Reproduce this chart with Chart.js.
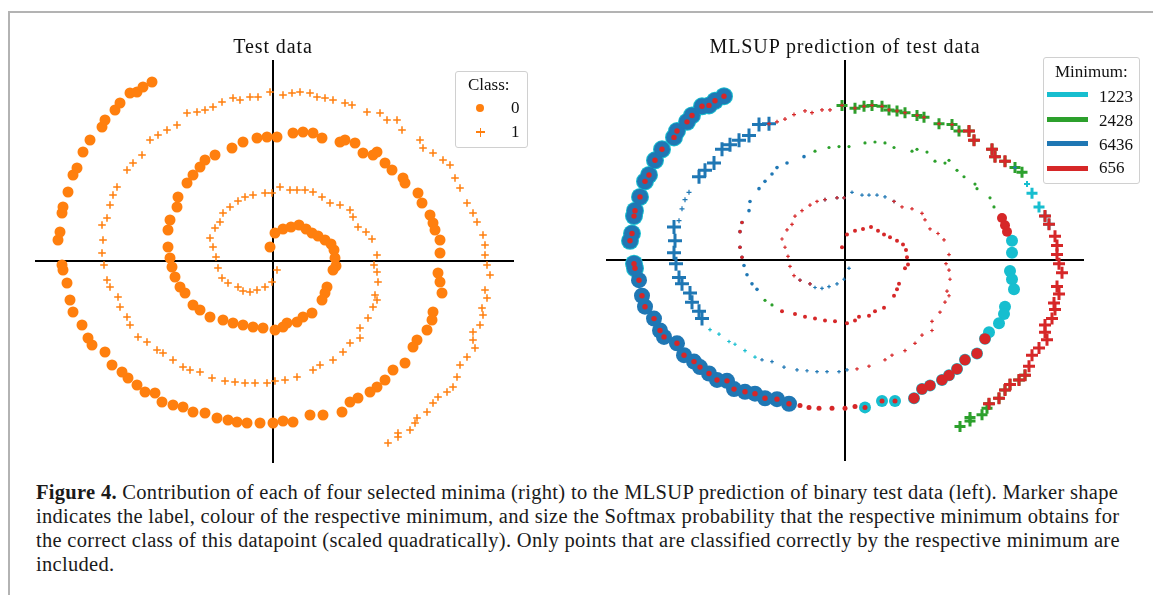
<!DOCTYPE html>
<html>
<head>
<meta charset="utf-8">
<script src="https://cdn.jsdelivr.net/npm/chart.js@4.4.1/dist/chart.umd.min.js"></script>
<style>
  body { margin: 0; background: #fff; }
  #fig { position: relative; width: 1153px; height: 595px; overflow: hidden; font-family: "Liberation Serif", "Times New Roman", serif; color: #111; }
  #fig canvas { position: absolute; top: 0; }
  .frame { position: absolute; left: 8px; top: 11px; right: -4px; bottom: -4px; border-top: 2px solid #b3b3b3; border-left: 2px solid #b3b3b3; }
  .title { position: absolute; width: 400px; text-align: center; font-size: 20px; line-height: 20px; letter-spacing: 0.9px; white-space: nowrap; }
  .box { position: absolute; border: 1px solid #d0d0d0; border-radius: 3px; background: rgba(255,255,255,0.85); }
  .lt { position: absolute; font-size: 17px; line-height: 17px; white-space: nowrap; }
  .swatch { position: absolute; height: 5px; width: 41px; }
  .cap { position: absolute; left: 36px; font-size: 20.5px; line-height: 24px; letter-spacing: 0.3px; white-space: nowrap; color: #1a1a1a; }
</style>
</head>
<body>
<div id="fig">
  <div class="frame"></div>
  <canvas id="left" width="576" height="470" style="left:0;width:576px;height:470px"></canvas>
  <canvas id="right" width="577" height="470" style="left:576px;width:577px;height:470px"></canvas>

  <div class="title" style="left:73px;top:36px">Test data</div>
  <div class="title" style="left:645px;top:36px">MLSUP prediction of test data</div>

  <!-- class legend -->
  <div class="box" style="left:455px;top:71px;width:71px;height:75px"></div>
  <div class="lt" style="left:468px;top:76px">Class:</div>
  <div style="position:absolute;left:476px;top:104px;width:8px;height:8px;border-radius:50%;background:#ff7f0e"></div>
  <div style="position:absolute;left:476px;top:131px;width:9px;height:1.6px;background:#ff7f0e"></div>
  <div style="position:absolute;left:479.7px;top:127.5px;width:1.6px;height:9px;background:#ff7f0e"></div>
  <div class="lt" style="left:511px;top:99px">0</div>
  <div class="lt" style="left:511px;top:123px">1</div>

  <!-- minimum legend -->
  <div class="box" style="left:1043px;top:57px;width:95px;height:125px"></div>
  <div class="lt" style="left:1055px;top:63px">Minimum:</div>
  <div class="swatch" style="left:1047px;top:91.5px;background:#17becf"></div>
  <div class="swatch" style="left:1047px;top:116.5px;background:#2ca02c"></div>
  <div class="swatch" style="left:1047px;top:140.5px;background:#1f77b4"></div>
  <div class="swatch" style="left:1047px;top:165.5px;background:#d62728"></div>
  <div class="lt" style="left:1099px;top:88px">1223</div>
  <div class="lt" style="left:1099px;top:112px">2428</div>
  <div class="lt" style="left:1099px;top:136px">6436</div>
  <div class="lt" style="left:1099px;top:159px">656</div>

  <div class="cap" style="top:479.5px"><b>Figure 4.</b> Contribution of each of four selected minima (right) to the MLSUP prediction of binary test data (left). Marker shape</div>
  <div class="cap" style="top:503.8px">indicates the label, colour of the respective minimum, and size the Softmax probability that the respective minimum obtains for</div>
  <div class="cap" style="top:528.1px">the correct class of this datapoint (scaled quadratically). Only points that are classified correctly by the respective minimum are</div>
  <div class="cap" style="top:552.4px">included.</div>
</div>

<script>
// test points, ordered along each spiral from the centre outwards
const class0 = [
  [-0.3,1.4],[0.2,2.8],[1.0,3.2],[1.8,3.4],[2.6,3.6],[3.3,3.2],[3.9,2.8],[4.5,2.5],[5.2,2.1],[5.8,1.7],
  [6.1,1.1],[6.2,0.3],[6.3,-0.5],[6.0,-0.9],[5.4,-2.6],[5.2,-3.2],[4.9,-3.9],[3.9,-5.2],[3.0,-5.6],[2.4,-6.1],
  [1.4,-6.2],[1.0,-6.6],[0.2,-6.9],[-1.0,-6.7],[-2.0,-6.6],[-3.0,-6.4],[-4.0,-6.2],[-5.0,-5.9],[-6.3,-5.6],[-7.3,-4.9],
  [-8.0,-4.4],[-8.8,-3.2],[-9.3,-2.6],[-9.8,-1.6],[-10.1,-0.6],[-10.3,0.3],[-10.5,1.4],[-10.5,3.1],[-10.3,4.1],[-9.6,5.4],
  [-9.5,6.4],[-8.6,7.8],[-8.0,8.6],[-7.3,9.4],[-6.8,10.1],[-5.8,10.6],[-4.1,11.3],[-3.0,11.9],[-1.6,12.3],[-0.6,12.4],
  [0.4,12.4],[2.0,12.8],[3.0,12.9],[4.0,12.8],[4.9,12.3],[6.7,11.9],[7.2,12.1],[8.2,11.8],[9.0,10.8],[10.0,10.6],
  [10.4,10.9],[11.2,9.8],[11.9,9.1],[13.0,8.3],[13.2,7.8],[14.5,6.8],[14.9,5.8],[15.7,4.6],[16.0,3.8],[16.2,3.1],
  [16.7,2.1],[16.7,0.8],[16.5,-1.2],[16.7,-2.1],[16.9,-3.2],[16.0,-5.1],[15.9,-5.9],[15.4,-6.9],[14.4,-7.9],[14.0,-8.6],
  [13.2,-10.2],[12.0,-10.9],[11.2,-11.9],[10.4,-12.6],[9.7,-13.1],[8.5,-13.7],[7.7,-14.1],[6.9,-15.1],[5.0,-15.4],[3.7,-15.4],
  [2.0,-16.1],[1.0,-16.0],[0.0,-16.2],[-1.3,-16.2],[-2.6,-16.2],[-3.6,-16.1],[-4.5,-15.9],[-5.6,-15.7],[-6.8,-15.2],[-8.0,-15.1],
  [-9.0,-14.6],[-10.0,-14.4],[-11.1,-14.1],[-11.8,-13.2],[-12.8,-13.1],[-13.6,-12.4],[-14.5,-11.7],[-15.1,-11.1],[-16.1,-10.4],[-16.8,-9.1],
  [-18.1,-8.4],[-18.5,-7.7],[-19.1,-6.4],[-20.0,-5.1],[-20.3,-3.9],[-20.6,-2.2],[-21.0,-0.9],[-21.1,-0.4],[-21.5,2.1],[-21.3,2.9],
  [-21.1,4.8],[-21.0,5.4],[-20.5,6.9],[-20.0,8.6],[-19.6,9.3],[-19.0,10.9],[-18.3,12.1],[-17.1,13.4],[-16.8,14.1],[-15.8,15.1],
  [-15.3,15.8],[-14.3,16.8],[-13.6,16.9],[-13.0,17.4],[-12.1,17.9]
];
const class1 = [
  [0.4,-0.9],[-0.1,-2.1],[-0.8,-2.6],[-1.6,-2.9],[-2.3,-3.1],[-3.0,-3.0],[-3.5,-2.6],[-4.5,-2.2],[-5.1,-1.7],[-5.5,-0.7],
  [-5.7,0.4],[-6.0,1.4],[-6.3,2.3],[-5.8,3.3],[-5.3,3.9],[-5.0,4.8],[-4.3,5.4],[-3.5,6.0],[-2.8,6.4],[-2.0,6.6],
  [-0.8,6.8],[-0.1,6.8],[0.7,7.4],[1.7,7.1],[2.4,7.1],[3.2,7.1],[4.0,6.9],[4.9,6.4],[5.7,5.8],[6.7,5.6],
  [7.7,5.1],[8.0,4.4],[8.5,3.4],[9.3,2.9],[9.9,2.2],[10.4,0.6],[10.1,-0.4],[10.4,-1.1],[10.5,-2.1],[10.2,-3.4],
  [10.4,-3.9],[10.0,-4.6],[9.5,-5.7],[8.7,-6.7],[8.7,-7.7],[7.7,-8.2],[7.0,-9.1],[6.0,-9.9],[4.7,-10.4],[4.0,-10.9],
  [2.4,-11.6],[1.2,-11.9],[0.2,-12.0],[-0.6,-12.2],[-1.8,-12.2],[-2.8,-12.2],[-3.8,-12.1],[-4.8,-12.0],[-6.1,-11.7],[-7.3,-11.1],
  [-8.3,-10.9],[-9.0,-10.6],[-10.0,-9.9],[-11.0,-9.2],[-11.6,-8.9],[-12.6,-8.1],[-13.5,-7.6],[-14.3,-6.4],[-14.6,-5.6],[-15.3,-4.6],
  [-15.5,-3.6],[-16.3,-2.6],[-16.6,-1.9],[-16.9,-0.4],[-17.1,0.8],[-17.0,2.1],[-17.1,3.6],[-16.6,4.3],[-16.3,5.6],[-16.0,6.6],
  [-15.6,7.4],[-14.6,9.1],[-14.0,9.8],[-13.1,10.6],[-12.3,12.1],[-11.5,12.6],[-10.6,13.1],[-9.6,13.6],[-8.6,14.8],[-7.6,14.9],
  [-6.8,15.1],[-6.0,15.4],[-5.1,15.9],[-4.0,16.3],[-3.3,16.1],[-2.3,16.4],[-1.5,16.4],[-0.3,16.9],[1.0,16.6],[1.9,16.8],
  [2.7,16.9],[3.7,16.8],[4.4,16.4],[5.2,16.3],[6.0,16.1],[7.2,15.8],[7.9,15.6],[9.4,14.9],[10.7,14.8],[11.4,14.1],
  [12.4,14.1],[12.9,13.1],[14.7,12.1],[15.0,11.3],[16.0,10.8],[17.0,10.1],[17.7,9.6],[18.2,8.3],[18.7,7.3],[19.4,5.8],
  [20.0,4.8],[20.4,3.9],[21.0,2.6],[21.2,1.6],[21.2,0.6],[21.4,-0.4],[21.7,-1.4],[21.2,-2.9],[21.4,-3.7],[20.9,-4.7],
  [21.0,-5.4],[20.7,-6.4],[20.0,-7.1],[20.0,-7.9],[20.2,-8.7],[19.4,-9.6],[18.7,-10.4],[18.4,-11.6],[18.0,-12.6],[17.4,-13.1],
  [16.5,-13.6],[16.0,-14.2],[15.4,-15.1],[14.4,-15.7],[14.2,-16.2],[13.7,-16.9],[12.5,-17.2],[12.5,-17.6],[11.5,-18.2]
];

// points each minimum gets right: [first index, last index, marker radius]
const min1223Dots    = [[70, 90, 6], [116, 134, 9]];
const min1223Crosses = [[61, 67, 1.8], [116, 117, 3], [118, 121, 5.5], [146, 148, 4]];
const min2428Dots    = [[29, 30, 1.6], [47, 66, 1.6]];
const min2428Crosses = [[97, 116, 5.5], [138, 148, 5.5]];
const min6436Dots    = [[31, 46, 1.8], [97, 134, 8]];
const min6436Crosses = [[0, 7, 1.8], [19, 27, 1.8], [52, 60, 1.8], [67, 76, 7], [77, 80, 2.5], [81, 89, 7], [115, 115, 2]];
const min656Dots     = [[0, 28, 2], [35, 38, 1.8], [67, 69, 5], [79, 87, 5.5], [88, 96, 2.5], [97, 134, 2.7]];
const min656Crosses  = [[6, 21, 1.8], [27, 51, 1.8], [89, 96, 2], [97, 109, 2], [110, 114, 6], [120, 143, 6]];

const minima = ['1223', '2428', '6436', '656'];
const minColors = ['#17becf', '#2ca02c', '#1f77b4', '#d62728'];
const orange = '#ff7f0e';

Chart.defaults.font.family = 'Liberation Serif';

function pick(points, ranges) {
  const out = [];
  for (const [from, to, r] of ranges)
    for (let i = from; i <= to; i++) out.push({ x: points[i][0], y: points[i][1], r });
  return out;
}

function axes(xr, yr) {
  const common = {
    type: 'linear',
    grid: { display: false },
    ticks: { display: false },
    border: { color: '#000', width: 2 }
  };
  return {
    x: { ...common, min: xr[0], max: xr[1], position: { y: 0 } },
    y: { ...common, min: yr[0], max: yr[1], position: { x: 0 } }
  };
}

function baseOptions(padding, xr, yr) {
  return {
    responsive: false,
    animation: false,
    events: [],
    layout: { padding },
    plugins: { legend: { display: false }, tooltip: { enabled: false } },
    scales: axes(xr, yr)
  };
}

const crossWidth = c => (c.raw && c.raw.r >= 5 ? 3 : c.raw && c.raw.r >= 3 ? 2 : 1.2);

// left: the raw test data
new Chart(document.getElementById('left'), {
  type: 'scatter',
  data: {
    datasets: [
      {
        data: class0.map(p => ({ x: p[0], y: p[1] })),
        pointStyle: 'circle', pointRadius: 5.5,
        backgroundColor: orange, borderColor: orange, borderWidth: 0
      },
      {
        data: class1.map(p => ({ x: p[0], y: p[1] })),
        pointStyle: 'cross', pointRadius: 3.8,
        borderColor: orange, borderWidth: 1.5
      }
    ]
  },
  options: baseOptions({ left: 36, right: 63, top: 61, bottom: 8 }, [-23.7, 24.0], [-20.1, 20.0])
});

// right: contribution of each minimum, red drawn on top, cyan at the bottom
const dotRanges = [min1223Dots, min2428Dots, min6436Dots, min656Dots];
const crossRanges = [min1223Crosses, min2428Crosses, min6436Crosses, min656Crosses];
const layer = [3, 2, 1, 0];
const rightSets = [];
minima.forEach((name, k) => {
  rightSets.push({
    label: name,
    data: pick(class0, dotRanges[k]),
    order: layer[k],
    pointStyle: 'circle',
    pointRadius: c => (c.raw ? c.raw.r : 2),
    backgroundColor: minColors[k], borderColor: minColors[k], borderWidth: 0
  });
  rightSets.push({
    label: name,
    data: pick(class1, crossRanges[k]),
    order: layer[k],
    pointStyle: 'cross',
    pointRadius: c => (c.raw ? c.raw.r : 2),
    borderColor: minColors[k], borderWidth: crossWidth
  });
});

new Chart(document.getElementById('right'), {
  type: 'scatter',
  data: { datasets: rightSets },
  options: baseOptions({ left: 31, right: 70, top: 61, bottom: 8 }, [-23.8, 23.8], [-21.85, 21.75])
});
</script>
</body>
</html>
